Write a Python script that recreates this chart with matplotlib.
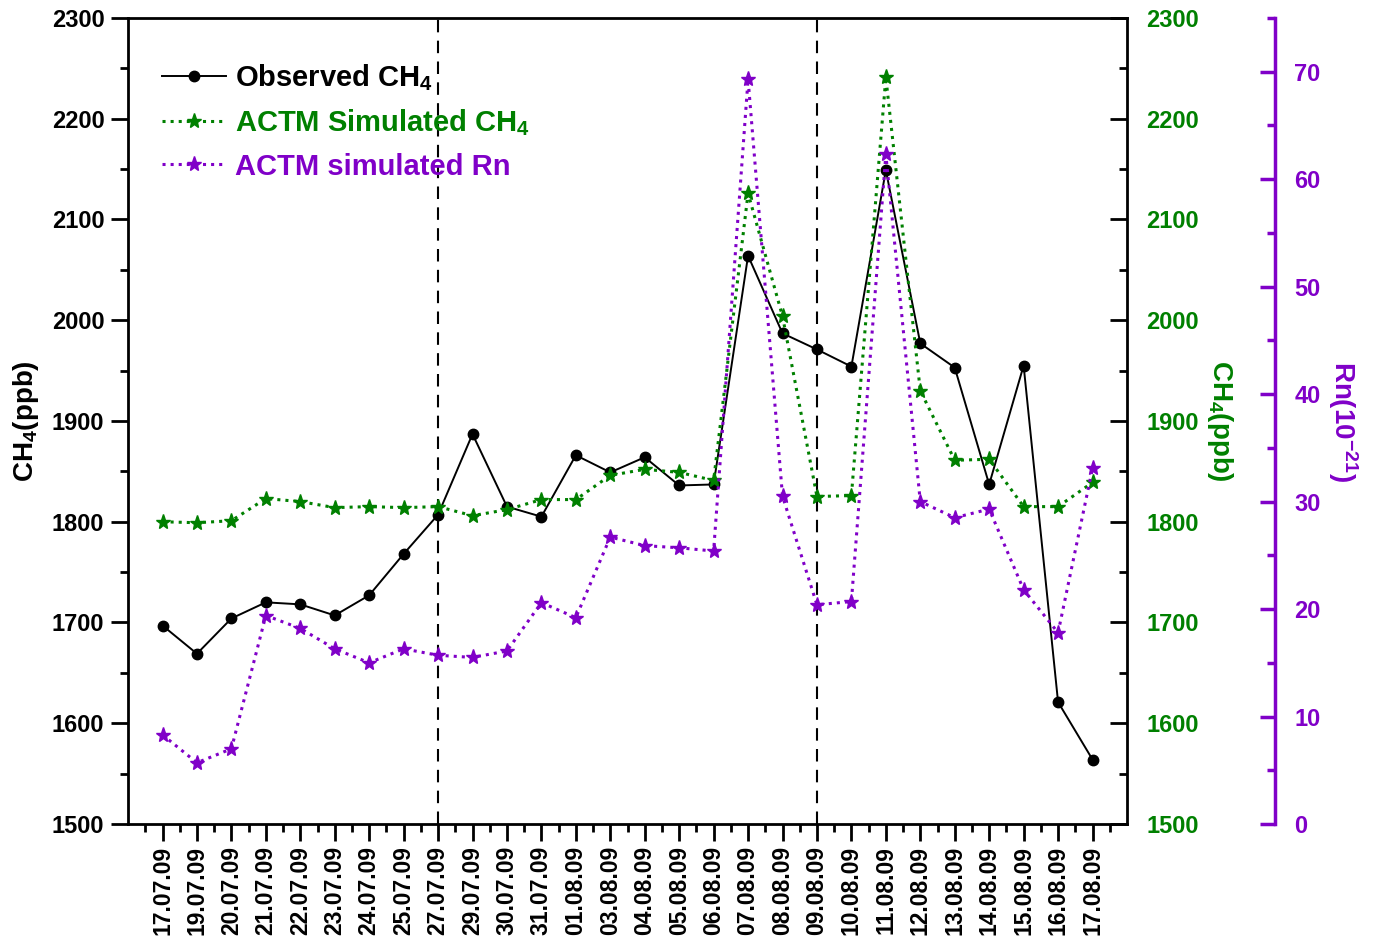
import numpy as np
import matplotlib
matplotlib.use("Agg")
import matplotlib.pyplot as plt
from matplotlib.ticker import MultipleLocator, FixedLocator

plt.rcParams['font.family'] = ['Liberation Sans', 'DejaVu Sans']
plt.rcParams['font.weight'] = 'bold'
plt.rcParams['mathtext.fontset'] = 'custom'
plt.rcParams['mathtext.rm'] = 'Liberation Sans:bold'
plt.rcParams['mathtext.it'] = 'Liberation Sans:bold'
plt.rcParams['mathtext.bf'] = 'Liberation Sans:bold'

# dates of the samples
dates = ["17.07.09", "19.07.09", "20.07.09", "21.07.09", "22.07.09", "23.07.09",
         "24.07.09", "25.07.09", "27.07.09", "29.07.09", "30.07.09", "31.07.09",
         "01.08.09", "03.08.09", "04.08.09", "05.08.09", "06.08.09", "07.08.09",
         "08.08.09", "09.08.09", "10.08.09", "11.08.09", "12.08.09", "13.08.09",
         "14.08.09", "15.08.09", "16.08.09", "17.08.09"]

# observed CH4 (ppb)
ch4_obs = [1697, 1669, 1704, 1720, 1718, 1707, 1727, 1768, 1807, 1887,
           1815, 1805, 1866, 1849, 1864, 1836, 1837, 2064, 1987, 1971,
           1954, 2149, 1977, 1953, 1837, 1955, 1621, 1564]

# ACTM simulated CH4 (ppb)
ch4_sim = [1800, 1799, 1801, 1823, 1820, 1814, 1815, 1814, 1815, 1806,
           1812, 1822, 1822, 1846, 1852, 1849, 1841, 2126, 2004, 1825,
           1826, 2241, 1930, 1861, 1862, 1815, 1815, 1839]

# ACTM simulated Rn (10^-21)
rn_sim = [8.3, 5.7, 7.0, 19.4, 18.2, 16.3, 15.0, 16.3, 15.7, 15.5,
          16.1, 20.6, 19.2, 26.7, 25.9, 25.7, 25.4, 69.3, 30.5, 20.4,
          20.7, 62.3, 30.0, 28.5, 29.3, 21.8, 17.8, 33.1]

# boundaries of the periods
period_marks = ["27.07.09", "09.08.09"]

GREEN = '#008000'
PURPLE = '#8000C8'
TICK_FS = 17
LABEL_FS = 20

x = np.arange(len(dates))

fig = plt.figure(figsize=(13.74, 9.4), dpi=100)
ax = fig.add_axes([0.0932, 0.1234, 0.727, 0.8575])
ax_g = ax.twinx()
ax_rn = ax.twinx()

# observed
l_obs, = ax.plot(x, ch4_obs, '-', color='black', lw=1.4, marker='o', ms=7.5,
                 label='Observed CH$_4$', zorder=4)
# simulated CH4, same scale on the right
l_sim, = ax_g.plot(x, ch4_sim, ':', color=GREEN, lw=2.2, marker='*', ms=11,
                   label='ACTM Simulated CH$_4$')
# simulated radon
l_rn, = ax_rn.plot(x, rn_sim, ':', color=PURPLE, lw=2.2, marker='*', ms=11,
                   label='ACTM simulated Rn')

for d in period_marks:
    ax.axvline(dates.index(d), color='black', ls='--', lw=1.5, dashes=(6, 4), zorder=3)

# main axes
ax.set_xlim(-1, 28)
ax.set_ylim(1500, 2300)
ax.set_xticks(x)
ax.set_xticklabels(dates, rotation=90, fontsize=16.5, fontweight='bold')
ax.xaxis.set_minor_locator(FixedLocator(np.arange(-0.5, 28, 1.0)))
ax.yaxis.set_major_locator(MultipleLocator(100))
ax.yaxis.set_minor_locator(MultipleLocator(50))
ax.tick_params(axis='both', which='major', direction='out', length=12, width=2)
ax.tick_params(axis='y', labelsize=TICK_FS)
ax.tick_params(axis='both', which='minor', direction='out', length=6, width=2)
ax.tick_params(axis='y', left=True, right=False, pad=5)
ax.tick_params(axis='x', pad=4)
for s in ax.spines.values():
    s.set_linewidth(2)
ax.set_ylabel('CH$_4$(ppb)', fontsize=LABEL_FS, fontweight='bold', labelpad=8)

# green CH4 axis
ax_g.set_ylim(1500, 2300)
ax_g.yaxis.set_major_locator(MultipleLocator(100))
ax_g.yaxis.set_minor_locator(MultipleLocator(50))
ax_g.tick_params(axis='y', which='major', direction='in', length=12, width=2,
                 color='black', labelcolor=GREEN, labelsize=TICK_FS, pad=14)
ax_g.tick_params(axis='y', which='minor', direction='in', length=6, width=2,
                 color='black')
for s in ax_g.spines.values():
    s.set_visible(False)
ax_g.set_ylabel('CH$_4$(ppb)', color=GREEN, fontsize=LABEL_FS, fontweight='bold',
                rotation=-90, labelpad=26)

# radon axis
ax_rn.spines['right'].set_position(('axes', 1.148))
for side in ['left', 'top', 'bottom']:
    ax_rn.spines[side].set_visible(False)
ax_rn.spines['right'].set_color(PURPLE)
ax_rn.spines['right'].set_linewidth(2.5)
ax_rn.set_ylim(0, 75)
ax_rn.yaxis.set_major_locator(MultipleLocator(10))
ax_rn.yaxis.set_minor_locator(MultipleLocator(5))
ax_rn.tick_params(axis='y', which='major', direction='in', length=11, width=2.5,
                  color=PURPLE, labelcolor=PURPLE, labelsize=TICK_FS, pad=14)
ax_rn.tick_params(axis='y', which='minor', direction='in', length=6, width=2.5,
                  color=PURPLE)
ax_rn.set_ylabel('Rn(10$^{-21}$)', color=PURPLE, fontsize=LABEL_FS, fontweight='bold',
                 rotation=-90, labelpad=28)

leg = ax_rn.legend(handles=[l_obs, l_sim, l_rn], loc='upper left',
                   bbox_to_anchor=(0.008, 0.978), frameon=False,
                   handlelength=2.2, labelspacing=0.5, handletextpad=0.3,
                   prop={'weight': 'bold', 'size': 21})
for txt, c in zip(leg.get_texts(), ['black', GREEN, PURPLE]):
    txt.set_color(c)

fig.savefig('out.png', dpi=100)
